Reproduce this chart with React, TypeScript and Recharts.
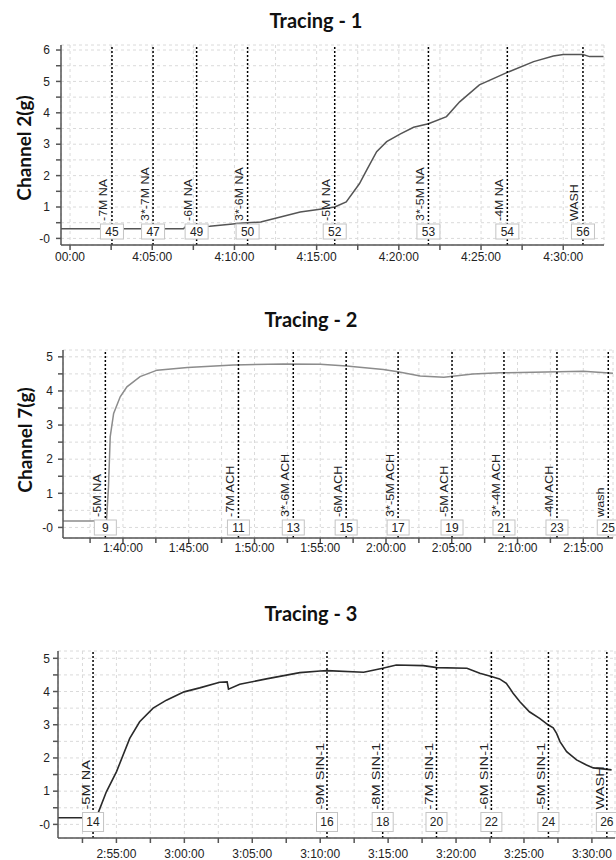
import React from 'react';
import { LineChart, Line, XAxis, YAxis, CartesianGrid, ReferenceLine } from 'recharts';

// ---------- Tracing 1 (minutes after 4:00:00) ----------
const t1Time = [-0.55, 2.0, 4.5, 6.9, 7.0, 8.5, 9.9, 10.3, 11.6, 12.8, 14.0, 15.2, 16.1, 16.8, 17.6, 18.05, 18.65, 19.26, 20.1, 20.9, 21.8, 22.9, 23.7, 24.9, 26.7, 28.2, 29.4, 30.0, 31.2, 31.6, 32.45];
const t1Force = [0.31, 0.31, 0.31, 0.31, 0.36, 0.39, 0.46, 0.48, 0.52, 0.68, 0.84, 0.93, 1.0, 1.16, 1.74, 2.18, 2.76, 3.08, 3.33, 3.54, 3.65, 3.88, 4.35, 4.89, 5.31, 5.63, 5.81, 5.86, 5.86, 5.79, 5.79];
const t1EventTime = [2.55, 5.05, 7.7, 10.8, 16.1, 21.8, 26.6, 31.2];
const t1EventNo = ['45', '47', '49', '50', '52', '53', '54', '56'];
const t1EventName = ['-7M NA', '3*-7M NA', '-6M NA', '3*-6M NA', '-5M NA', '3*-5M NA', '-4M NA', 'WASH'];
const t1MajorTicks = [0, 5, 10, 15, 20, 25, 30];
const t1MajorLabels = ['00:00', '4:05:00', '4:10:00', '4:15:00', '4:20:00', '4:25:00', '4:30:00'];
const t1MinorTicks = [2.5, 7.5, 12.5, 17.5, 22.5, 27.5];
const t1YTicks = [0, 0.5, 1, 1.5, 2, 2.5, 3, 3.5, 4, 4.5, 5, 5.5, 6];

// ---------- Tracing 2 (minutes after 1:40:00) ----------
const t2Time = [-4.56, -2.4, -1.25, -1.1, -0.97, -0.71, -0.21, 0.3, 1.3, 2.6, 4.9, 8.4, 12.2, 15.0, 17.0, 19.8, 20.9, 22.6, 24.4, 26.6, 28.7, 31.2, 35.0, 37.26];
const t2Force = [0.19, 0.19, 0.2, 1.2, 2.66, 3.34, 3.83, 4.12, 4.42, 4.61, 4.69, 4.76, 4.79, 4.78, 4.73, 4.63, 4.56, 4.44, 4.4, 4.5, 4.53, 4.55, 4.58, 4.52];
const t2EventTime = [-1.34, 8.78, 12.95, 16.97, 20.92, 25.02, 28.97, 33.0, 36.9];
const t2EventNo = ['9', '11', '13', '15', '17', '19', '21', '23', '25'];
const t2EventName = ['-5M NA', '-7M ACH', '3*-6M ACH', '-6M ACH', '3*-5M ACH', '-5M ACH', '3*-4M ACH', '-4M ACH', 'wash'];
const t2MajorTicks = [0, 5, 10, 15, 20, 25, 30, 35];
const t2MajorLabels = ['1:40:00', '1:45:00', '1:50:00', '1:55:00', '2:00:00', '2:05:00', '2:10:00', '2:15:00'];
const t2MinorTicks = [-2.5, 2.5, 7.5, 12.5, 17.5, 22.5, 27.5, 32.5];
const t2YTicks = [0, 0.5, 1, 1.5, 2, 2.5, 3, 3.5, 4, 4.5, 5];

// ---------- Tracing 3 (minutes after 2:55:00) ----------
const t3Time = [-4.3, -2.6, -1.5, -1.35, -0.74, 0, 0.98, 1.71, 2.7, 3.68, 4.98, 6.13, 7.6, 8.15, 8.25, 9.08, 11.04, 13.5, 15.0, 15.5, 18.2, 19.6, 20.6, 22.6, 23.6, 25.8, 26.75, 27.6, 28.2, 28.7, 29.2, 29.7, 30.4, 31.15, 31.8, 32.15, 32.4, 32.65, 33.14, 33.87, 34.6, 35.1, 35.8, 36.45];
const t3Force = [0.2, 0.2, 0.2, 0.34, 0.98, 1.58, 2.59, 3.09, 3.5, 3.74, 3.99, 4.11, 4.28, 4.29, 4.07, 4.22, 4.38, 4.57, 4.62, 4.63, 4.58, 4.7, 4.8, 4.78, 4.72, 4.7, 4.55, 4.45, 4.38, 4.25, 3.95, 3.69, 3.39, 3.19, 2.99, 2.91, 2.74, 2.49, 2.19, 1.94, 1.79, 1.7, 1.67, 1.64];
const t3EventTime = [-1.72, 15.5, 19.6, 23.56, 27.6, 31.8, 36.1];
const t3EventNo = ['14', '16', '18', '20', '22', '24', '26'];
const t3EventName = ['-5M NA', '-9M SIN-1', '-8M SIN-1', '-7M SIN-1', '-6M SIN-1', '-5M SIN-1', 'WASH'];
const t3MajorTicks = [0, 5, 10, 15, 20, 25, 30, 35];
const t3MajorLabels = ['2:55:00', '3:00:00', '3:05:00', '3:10:00', '3:15:00', '3:20:00', '3:25:00', '3:30:00'];
const t3MinorTicks = [-2.5, 2.5, 7.5, 12.5, 17.5, 22.5, 27.5, 32.5];
const t3YTicks = [0, 0.5, 1, 1.5, 2, 2.5, 3, 3.5, 4, 4.5, 5];

const TICK_FONT = 'Liberation Sans, Arial, sans-serif';
const TITLE_FONT = 'Lato, "Open Sans", sans-serif';

function EventMark(props: any) {
  const { viewBox, num, name, boxW, boxH, boxGap, textDx, stretch } = props;
  if (!viewBox) return null;
  const x = viewBox.x;
  const yA = viewBox.y;
  const yB = viewBox.y + (viewBox.height || 0);
  const bottom = Math.max(yA, yB);
  const bTop = bottom - boxGap - boxH;
  return (
    <g>
      <rect x={x - boxW / 2} y={bTop} width={boxW} height={boxH} fill="#fff" stroke="#c4c4c4" strokeWidth={1} />
      <text x={x} y={bTop + boxH / 2 + 4.3} textAnchor="middle" fontSize={12} fill="#222" fontFamily={TICK_FONT}>
        {num}
      </text>
      <text
        transform={`translate(${x - textDx},${bTop - 3}) rotate(-90) scale(${stretch},1)`}
        fontSize={11}
        fill="#222"
        fontFamily={TICK_FONT}
      >
        {name}
      </text>
    </g>
  );
}

function Panel(p: any) {
  const data = p.times.map((t: number, i: number) => ({ t, v: p.values[i] }));
  const xTicks = [...p.major, ...p.minor].sort((a: number, b: number) => a - b);
  const fmtX = (v: number) => {
    const i = p.major.indexOf(v);
    return i >= 0 ? p.majorLabels[i] : '';
  };
  const fmtY = (v: number) => (Number.isInteger(v) ? (v === 0 ? '-0' : String(v)) : '');
  return (
    <div style={{ position: 'absolute', left: 0, top: p.top }}>
      <LineChart width={616} height={p.height} data={data} margin={p.margin}>
        <CartesianGrid stroke="#dadada" strokeDasharray="3 3" />
        <XAxis
          type="number"
          dataKey="t"
          domain={p.xDomain}
          allowDataOverflow
          ticks={xTicks}
          interval={0}
          tickFormatter={fmtX}
          height={p.xHeight}
          stroke="#555"
          strokeWidth={1.5}
          tickSize={5}
          tickMargin={p.xTickMargin}
          tick={{ fontSize: 12, fill: '#222', fontFamily: TICK_FONT }}
        />
        <YAxis
          type="number"
          domain={p.yDomain}
          allowDataOverflow
          ticks={p.yTicks}
          interval={0}
          tickFormatter={fmtY}
          width={p.yWidth}
          stroke="#555"
          strokeWidth={1.5}
          tickSize={5}
          tickMargin={p.yTickMargin}
          tick={{ fontSize: 12, fill: '#222', fontFamily: TICK_FONT }}
        />
        <Line
          type="linear"
          dataKey="v"
          stroke={p.color}
          strokeWidth={p.lineWidth}
          dot={false}
          activeDot={false}
          isAnimationActive={false}
        />
        {p.eventTime.map((t: number, i: number) => (
          <ReferenceLine
            key={i}
            x={t}
            stroke="#000"
            strokeWidth={1.5}
            strokeDasharray="2 2"
            label={(lp: any) => (
              <EventMark
                viewBox={lp.viewBox}
                num={p.eventNo[i]}
                name={p.eventName[i]}
                boxW={p.boxW}
                boxH={p.boxH}
                boxGap={p.boxGap}
                textDx={p.textDx}
                stretch={p.stretch}
              />
            )}
          />
        ))}
      </LineChart>
    </div>
  );
}

export default function App() {
  return (
    <div style={{ position: 'absolute', left: 0, top: 0, width: 616, height: 860, background: '#fff', overflow: 'hidden' }}>
      <Panel
        top={0}
        height={275}
        margin={{ top: 45, right: 12, bottom: 0, left: 0 }}
        xHeight={30}
        yWidth={61}
        xTickMargin={2}
        yTickMargin={6}
        xDomain={[-0.55, 32.48]}
        yDomain={[-0.21, 6.16]}
        major={t1MajorTicks}
        majorLabels={t1MajorLabels}
        minor={t1MinorTicks}
        yTicks={t1YTicks}
        times={t1Time}
        values={t1Force}
        color="#555"
        lineWidth={1.5}
        eventTime={t1EventTime}
        eventNo={t1EventNo}
        eventName={t1EventName}
        boxW={23}
        boxH={15}
        boxGap={6}
        textDx={4.5}
        stretch={1.13}
      />
      <Panel
        top={290}
        height={280}
        margin={{ top: 60, right: 3, bottom: 2, left: 0 }}
        xHeight={30}
        yWidth={63}
        xTickMargin={0}
        yTickMargin={5}
        xDomain={[-4.56, 37.26]}
        yDomain={[-0.31, 5.2]}
        major={t2MajorTicks}
        majorLabels={t2MajorLabels}
        minor={t2MinorTicks}
        yTicks={t2YTicks}
        times={t2Time}
        values={t2Force}
        color="#8c8c8c"
        lineWidth={1.5}
        eventTime={t2EventTime}
        eventNo={t2EventNo}
        eventName={t2EventName}
        boxW={22}
        boxH={15}
        boxGap={3}
        textDx={4}
        stretch={1.15}
      />
      <Panel
        top={575}
        height={285}
        margin={{ top: 76, right: 1, bottom: 2, left: 0 }}
        xHeight={20}
        yWidth={58}
        xTickMargin={6}
        yTickMargin={3}
        xDomain={[-4.3, 36.7]}
        yDomain={[-0.41, 5.22]}
        major={t3MajorTicks}
        majorLabels={t3MajorLabels}
        minor={t3MinorTicks}
        yTicks={t3YTicks}
        times={t3Time}
        values={t3Force}
        color="#2a2a2a"
        lineWidth={1.6}
        eventTime={t3EventTime}
        eventNo={t3EventNo}
        eventName={t3EventName}
        boxW={21}
        boxH={19}
        boxGap={6.5}
        textDx={3}
        stretch={1.33}
      />
      <svg
        width={616}
        height={860}
        style={{ position: 'absolute', left: 0, top: 0, pointerEvents: 'none' }}
      >
        <text x={316} y={27.5} textAnchor="middle" fontSize={20} fontWeight={700} fill="#111" fontFamily={TITLE_FONT}>
          Tracing - 1
        </text>
        <text x={311} y={327} textAnchor="middle" fontSize={20} fontWeight={700} fill="#111" fontFamily={TITLE_FONT}>
          Tracing - 2
        </text>
        <text x={311} y={621} textAnchor="middle" fontSize={20} fontWeight={700} fill="#111" fontFamily={TITLE_FONT}>
          Tracing - 3
        </text>
        <text
          transform="translate(31,148) rotate(-90)"
          textAnchor="middle"
          fontSize={19}
          fontWeight={700}
          fill="#111"
          fontFamily={TITLE_FONT}
        >
          Channel 2(g)
        </text>
        <text
          transform="translate(32,440) rotate(-90)"
          textAnchor="middle"
          fontSize={19}
          fontWeight={700}
          fill="#111"
          fontFamily={TITLE_FONT}
        >
          Channel 7(g)
        </text>
      </svg>
    </div>
  );
}
